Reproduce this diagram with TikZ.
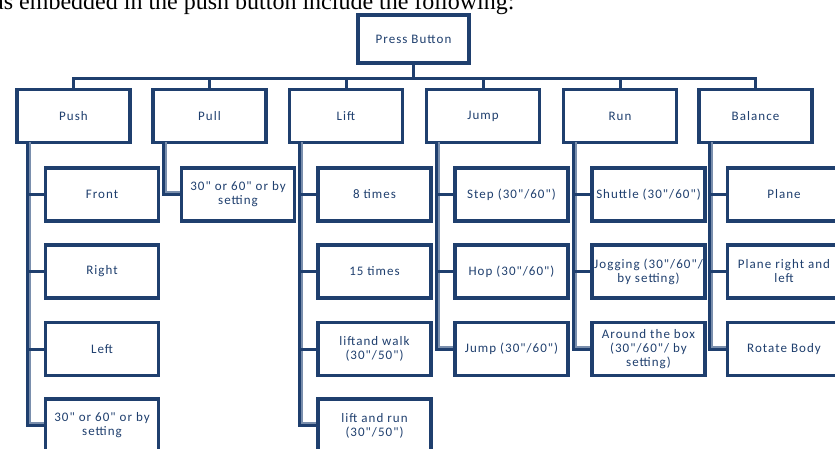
\documentclass[tikz,border=0pt]{standalone}
\usepackage{fontspec}
\setmainfont{Liberation Serif}
\newfontfamily\boxfont[LetterSpace=8]{Carlito}
\usetikzlibrary{positioning}
\definecolor{ChartNavy}{HTML}{1F3F6E}
\definecolor{ChartShade}{HTML}{7A8FAD}

\begin{document}
\begin{tikzpicture}[x=1pt,y=-1pt,line cap=butt,line join=miter,
    box/.style={draw=ChartNavy,line width=3.6pt,fill=white,rectangle,
        minimum width=113pt,minimum height=53pt,inner sep=1pt,
        align=center,text=ChartNavy,
        font=\boxfont\fontsize{13}{14}\selectfont},
    link/.style={draw=ChartNavy,line width=3pt},
    shade/.style={draw=ChartShade,line width=2pt}]

% Picture size (px of the reference)
\useasboundingbox (0,0) rectangle (835,448);
\clip (0,0) rectangle (835,448);

% Rows (vertical centres)
\def\rowA{194.5}
\def\rowB{271.5}
\def\rowC{349}
\def\rowD{425.5}
\def\kid{28.5}      % child offset from its parent
\def\spine{12}      % spine offset from the parent's left side

% Sentence above the chart (cut by the page)
\node[anchor=base west,inner sep=0pt,font=\fontsize{24}{26}\selectfont] (intro)
    at (-7,9) {as embedded in the push button include the following:};

% ---- TOP ----
\node[box,minimum width=111pt,minimum height=48pt] (press) at (413.5,39) {Press Button};
\coordinate (bar) at (413.5,78);

% ---- LEVEL ONE ----
\node[box] (push)    at (73.5,116)  {Push};
\node[box] (pull)    at (209.5,116) {Pull};
\node[box] (lift)    at (346,116)   {Lift};
\node[box] (jump)    at (483,116)   {Jump};
\node[box] (run)     at (620,116)   {Run};
\node[box] (balance) at (755.5,116) {Balance};

% ---- CHILDREN ----
% Push
\node[box] (front)    at (73.5+\kid,\rowA) {Front};
\node[box] (right)    at (73.5+\kid,\rowB) {Right};
\node[box] (left)     at (73.5+\kid,\rowC) {Left};
\node[box] (pushtime) at (73.5+\kid,\rowD) {30" or 60" or by\\setting};
% Pull
\node[box] (pulltime) at (209.5+\kid,\rowA) {30" or 60" or by\\setting};
% Lift
\node[box] (eight)    at (346+\kid,\rowA) {8 times};
\node[box] (fifteen)  at (346+\kid,\rowB) {15 times};
\node[box] (liftwalk) at (346+\kid,\rowC) {liftand walk\\(30"/50")};
\node[box] (liftrun)  at (346+\kid,\rowD) {lift and run\\(30"/50")};
% Jump
\node[box] (step)     at (483+\kid,\rowA) {Step (30"/60")};
\node[box] (hop)      at (483+\kid,\rowB) {Hop (30"/60")};
\node[box] (jumpjump) at (483+\kid,\rowC) {Jump (30"/60")};
% Run
\node[box] (shuttle)  at (620+\kid,\rowA) {Shuttle (30"/60")};
\node[box] (jogging)  at (620+\kid,\rowB) {Jogging (30"/60"/\\by setting)};
\node[box] (aroundbox) at (620+\kid,\rowC) {Around the box\\(30"/60"/ by\\setting)};
% Balance
\node[box] (plane)    at (755.5+\kid,\rowA) {Plane};
\node[box] (planerl)  at (755.5+\kid,\rowB) {Plane right and\\left};
\node[box] (rotate)   at (755.5+\kid,\rowC) {Rotate Body};

% ---- CONNECTORS ----
% top bar
\draw[link] (press) -- (bar);
\draw[link] (push.north) |- (bar);
\draw[link] (pull.north) |- (bar);
\draw[link] (lift.north) |- (bar);
\draw[link] (jump.north) |- (bar);
\draw[link] (run.north) |- (bar);
\draw[link] (balance.north) |- (bar);

% spines
\coordinate (pushsp)    at ([xshift=\spine pt]push.south west);
\coordinate (pullsp)    at ([xshift=\spine pt]pull.south west);
\coordinate (liftsp)    at ([xshift=\spine pt]lift.south west);
\coordinate (jumpsp)    at ([xshift=\spine pt]jump.south west);
\coordinate (runsp)     at ([xshift=\spine pt]run.south west);
\coordinate (balancesp) at ([xshift=\spine pt]balance.south west);

% light edge beside each spine
\draw[shade] ([xshift=2.5pt,yshift=2pt]pushsp) |- ([yshift=2.5pt]pushtime.west);
\draw[shade] ([xshift=2.5pt,yshift=2pt]pullsp) |- ([yshift=2.5pt]pulltime.west);
\draw[shade] ([xshift=2.5pt,yshift=2pt]liftsp) |- ([yshift=2.5pt]liftrun.west);
\draw[shade] ([xshift=2.5pt,yshift=2pt]jumpsp) |- ([yshift=2.5pt]jumpjump.west);
\draw[shade] ([xshift=2.5pt,yshift=2pt]runsp) |- ([yshift=2.5pt]aroundbox.west);
\draw[shade] ([xshift=2.5pt,yshift=2pt]balancesp) |- ([yshift=2.5pt]rotate.west);

\draw[link] (pushsp) |- (front.west);
\draw[link] (pushsp) |- (right.west);
\draw[link] (pushsp) |- (left.west);
\draw[link] (pushsp) |- (pushtime.west);

\draw[link] (pullsp) |- (pulltime.west);

\draw[link] (liftsp) |- (eight.west);
\draw[link] (liftsp) |- (fifteen.west);
\draw[link] (liftsp) |- (liftwalk.west);
\draw[link] (liftsp) |- (liftrun.west);

\draw[link] (jumpsp) |- (step.west);
\draw[link] (jumpsp) |- (hop.west);
\draw[link] (jumpsp) |- (jumpjump.west);

\draw[link] (runsp) |- (shuttle.west);
\draw[link] (runsp) |- (jogging.west);
\draw[link] (runsp) |- (aroundbox.west);

\draw[link] (balancesp) |- (plane.west);
\draw[link] (balancesp) |- (planerl.west);
\draw[link] (balancesp) |- (rotate.west);

\end{tikzpicture}
\end{document}
